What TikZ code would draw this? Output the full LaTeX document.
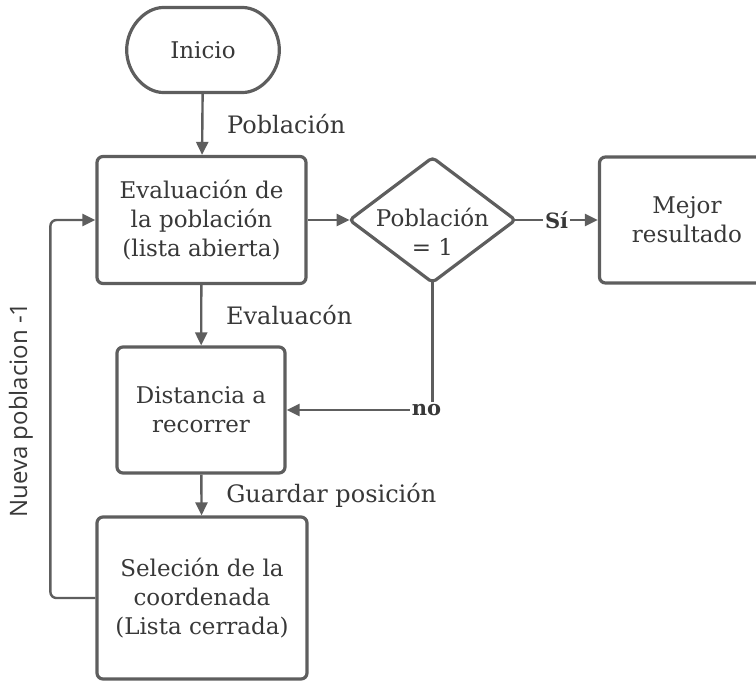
\documentclass[tikz,border=0pt]{standalone}
\usepackage{fontspec}
\setmainfont{DejaVu Serif}
\newfontfamily\sansfont{Open Sans}
\usepackage{xcolor}
\usepackage{tikz}
\usetikzlibrary{arrows.meta,shapes.misc}
\definecolor{linegray}{HTML}{5E5E5E}
\definecolor{textgray}{HTML}{383838}
\begin{document}
\begin{tikzpicture}[x=0.5pt,y=-0.5pt,>={Stealth[length=6.5pt,width=6pt,inset=0pt]},
box/.style={draw=linegray,line width=1.6pt,rounded corners=3pt,align=center,text=textgray,font=\fontsize{11.5}{14.5}\selectfont},
txt/.style={align=center,text=textgray,font=\fontsize{11.5}{14.5}\selectfont},
link/.style={->,draw=linegray,line width=1.2pt},
lbl/.style={text=textgray,font=\fontsize{12}{14}\selectfont,anchor=west},
yesno/.style={fill=white,inner sep=1pt,text=textgray,font=\fontsize{10.5}{12}\bfseries}]
\useasboundingbox(0,0)rectangle(756,681);
\clip(0,0)rectangle(756,681);
% bloques
\node[box,shape=rounded rectangle,minimum width=83pt,minimum height=42.5pt](inicio)at(203,50){Inicio};
\node[box,minimum width=104.5pt,minimum height=63.5pt](eval)at(201.5,220){Evaluación de\\la población\\(lista abierta)};
\node[minimum width=82.5pt,minimum height=62pt,inner sep=0pt](pob)at(432.5,220){};
\draw[linegray,line width=1.6pt,rounded corners=2pt](pob.north)--(pob.east)--(pob.south)--(pob.west)--cycle;
\node[txt](pobtxt)at(432.5,232){Población\\= 1};
\node[box,minimum width=87.5pt,minimum height=63pt](mejor)at(687,220){Mejor\\resultado};
\node[box,minimum width=84pt,minimum height=63pt](dist)at(201,410){Distancia a\\recorrer};
\node[box,minimum width=105pt,minimum height=81pt](sel)at(202,598){Seleción de la\\coordenada\\(Lista cerrada)};
% flechas
\draw[link](inicio)--(eval)node[lbl,pos=0.5,xshift=8.5pt]{Población};
\draw[link](eval)--(pob.west);
\draw[link](pob.east)--(mejor)node[yesno,pos=0.5]{Sí};
\draw[link](eval)--(dist)node[lbl,pos=0.5,xshift=8.5pt]{Evaluacón};
\draw[link](pob.south)|-(dist.east)node[yesno,pos=0.5,xshift=-3pt]{no};
\draw[link](dist)--(sel)node[lbl,pos=0.5,xshift=8.5pt]{Guardar posición};
\draw[link,rounded corners=3pt](sel.west)--++(-45,0)|-(eval.west);
\node[rotate=90,text=textgray,font=\sansfont\fontsize{12}{14}\selectfont](nueva)at(21,410){Nueva poblacion -1};
\end{tikzpicture}
\end{document}
